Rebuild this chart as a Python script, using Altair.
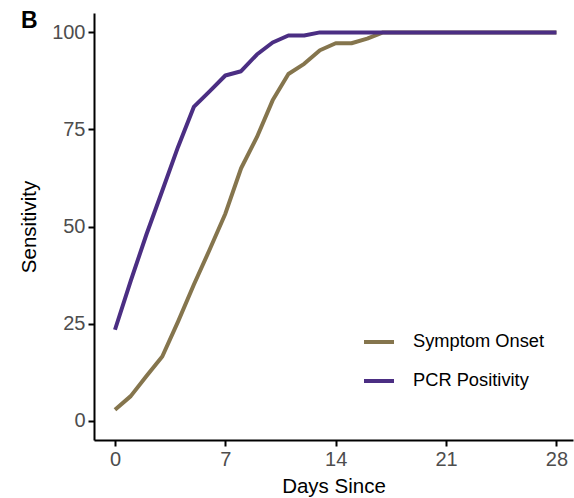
import altair as alt
import pandas as pd

days = list(range(0, 29))
symptom_onset = [2.8, 6.3, 11.5, 16.5, 25.5, 35.0, 44.0, 53.3, 65.0, 73.0,
                 82.5, 89.3, 91.9, 95.4, 97.2, 97.2, 98.4, 100, 100, 100,
                 100, 100, 100, 100, 100, 100, 100, 100, 100]
pcr_positivity = [23.4, 36.0, 48.0, 59.2, 70.5, 80.8, 84.8, 88.9, 90.0, 94.3,
                  97.4, 99.2, 99.2, 100, 100, 100, 100, 100, 100, 100,
                  100, 100, 100, 100, 100, 100, 100, 100, 100]
series = ["Symptom Onset", "PCR Positivity"]
colors = ["#85754d", "#4b2e83"]
x_ticks = [0, 7, 14, 21, 28]
y_ticks = [0, 25, 50, 75, 100]
panel_label = ["B"]

rows = []
for d, v in zip(days, symptom_onset):
    rows.append({"day": d, "sens": v, "series": series[0]})
for d, v in zip(days, pcr_positivity):
    rows.append({"day": d, "sens": v, "series": series[1]})
df = pd.DataFrame(rows)

FONT = "Liberation Sans"

lines = alt.Chart(df).mark_line(strokeWidth=4, strokeCap="butt", strokeJoin="round", clip=True).encode(
    x=alt.X("day:Q", scale=alt.Scale(domain=[-1.33, 29.05], nice=False, zero=False),
            axis=alt.Axis(values=x_ticks, title="Days Since", grid=False)),
    y=alt.Y("sens:Q", scale=alt.Scale(domain=[-5, 105], nice=False, zero=False),
            axis=alt.Axis(values=y_ticks, title="Sensitivity", grid=False)),
    color=alt.Color("series:N", scale=alt.Scale(domain=series, range=colors),
                    legend=alt.Legend(title=None, orient="none", legendX=268, legendY=312,
                                      symbolType="stroke", symbolSize=900, symbolStrokeWidth=4,
                                      labelFontSize=18.3, labelFont=FONT, labelColor="black",
                                      labelOffset=17, rowPadding=13, padding=0)),
    detail="series:N",
)

label = alt.Chart(pd.DataFrame({"t": panel_label})).mark_text(
    font=FONT, fontSize=23, fontWeight="bold", align="left", baseline="alphabetic", color="black"
).encode(text="t:N", x=alt.value(-73), y=alt.value(15))

chart = alt.layer(lines, label).properties(
    width=479, height=427,
    autosize=alt.AutoSizeParams(type="none"),
    padding={"left": 94, "top": 13, "right": 1, "bottom": 58},
).configure_view(stroke=None).configure_axis(
    domainColor="black", domainWidth=2, tickColor="black", tickWidth=2, tickSize=6,
    labelFont=FONT, labelFontSize=20, labelColor="#4d4d4d", labelPadding=3,
    titleFont=FONT, titleFontSize=20.5, titleColor="black", titleFontWeight="normal",
).configure_axisX(titlePadding=7).configure_axisY(titlePadding=12)

chart.save("out.html", embed_options={"renderer": "svg", "actions": False})
